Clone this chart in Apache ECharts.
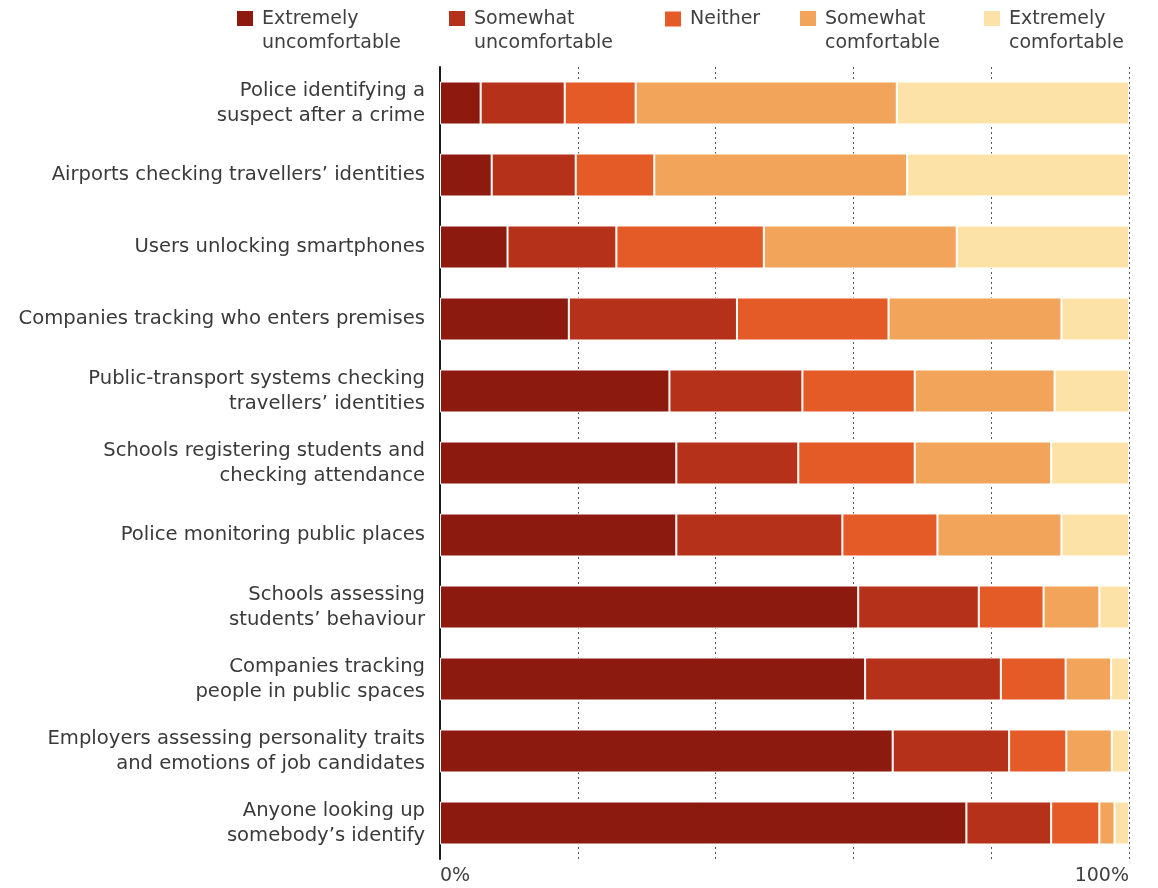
<!DOCTYPE html>
<html>
<head>
<meta charset="utf-8">
<script src="https://cdn.jsdelivr.net/npm/echarts@6/dist/echarts.min.js"></script>
<style>
html,body{margin:0;padding:0;background:#fff;}
#chart{width:1158px;height:888px;}
</style>
</head>
<body>
<div id="chart"></div>
<script>
const categories = [
  "Police identifying a\nsuspect after a crime",
  "Airports checking travellers’ identities",
  "Users unlocking smartphones",
  "Companies tracking who enters premises",
  "Public-transport systems checking\ntravellers’ identities",
  "Schools registering students and\nchecking attendance",
  "Police monitoring public places",
  "Schools assessing\nstudents’ behaviour",
  "Companies tracking\npeople in public spaces",
  "Employers assessing personality traits\nand emotions of job candidates",
  "Anyone looking up\nsomebody’s identify"
];
const seriesNames = [
  "Extremely\nuncomfortable",
  "Somewhat\nuncomfortable",
  "Neither",
  "Somewhat\ncomfortable",
  "Extremely\ncomfortable"
];
const extremelyUncomfortable = [5.9, 7.5, 9.8, 18.7, 33.3, 34.3, 34.3, 60.7, 61.7, 65.7, 76.4];
const somewhatUncomfortable  = [12.2, 12.2, 15.8, 24.4, 19.3, 17.7, 24.1, 17.5, 19.7, 16.9, 12.3];
const neither                = [10.3, 11.4, 21.4, 22.0, 16.3, 16.9, 13.8, 9.4, 9.4, 8.3, 7.0];
const somewhatComfortable    = [37.9, 36.7, 28.0, 25.1, 20.3, 19.8, 18.0, 8.1, 6.6, 6.6, 2.2];
const extremelyComfortable   = [33.7, 32.2, 25.0, 9.8, 10.8, 11.3, 9.8, 4.3, 2.6, 2.5, 2.1];
const xTickLabels = {0: "0%", 100: "100%"};

const seriesValues = [extremelyUncomfortable, somewhatUncomfortable, neither, somewhatComfortable, extremelyComfortable];
const colors = ["#8c1a0f", "#b6311a", "#e45b28", "#f2a55a", "#fde2a8"];
const FONT = "DejaVu Sans";
const FS = 19;

const legendLeft = [237, 449, 665, 800, 984];
const ICON_TWO = 'path://M0,0 L16,0 L16,15 L0,15 Z M0,40 L20,40';
const ICON_ONE = 'path://M0,0 L16,0 L16,15 L0,15 Z M0,15 L20,15';
const legends = seriesNames.map((n, i) => {
  const two = n.indexOf('\n') >= 0;
  return {
    data: [{name: n, icon: two ? ICON_TWO : ICON_ONE}],
    left: legendLeft[i],
    top: 7,
    padding: 0,
    orient: 'horizontal',
    itemWidth: 20,
    itemHeight: two ? 40 : 15,
    itemStyle: {borderWidth: 0},
    selectedMode: false,
    textStyle: {
      fontFamily: FONT,
      fontSize: FS,
      color: '#404040',
      lineHeight: 24
    }
  };
});

const chart = echarts.init(document.getElementById('chart'), null, {renderer: 'canvas'});
chart.setOption({
  animation: false,
  color: colors,
  legend: legends,
  grid: {left: 440, right: 29, top: 67, bottom: 29, containLabel: false},
  xAxis: {
    type: 'value',
    min: 0,
    max: 100,
    interval: 20,
    axisLine: {show: false},
    axisTick: {show: false},
    splitLine: {show: true, lineStyle: {color: '#4f555d', width: 1, type: [2, 3]}},
    axisLabel: {
      show: true,
      fontFamily: FONT,
      fontSize: FS,
      color: '#404040',
      margin: 8,
      alignMinLabel: 'left',
      alignMaxLabel: 'right',
      formatter: v => xTickLabels[v] || ''
    }
  },
  yAxis: {
    type: 'category',
    data: categories,
    inverse: true,
    axisLine: {show: true, lineStyle: {color: '#1a1a1a', width: 2}},
    axisTick: {show: false},
    splitLine: {show: false},
    axisLabel: {
      fontFamily: FONT,
      fontSize: 19.6,
      color: '#3a3a3a',
      lineHeight: 25,
      margin: 15,
      align: 'right'
    }
  },
  series: seriesNames.map((n, i) => ({
    name: n,
    type: 'bar',
    stack: 'total',
    barWidth: 43,
    data: seriesValues[i],
    itemStyle: {color: colors[i], borderColor: '#ffffff', borderWidth: 1},
    emphasis: {disabled: true}
  }))
});
</script>
</body>
</html>
